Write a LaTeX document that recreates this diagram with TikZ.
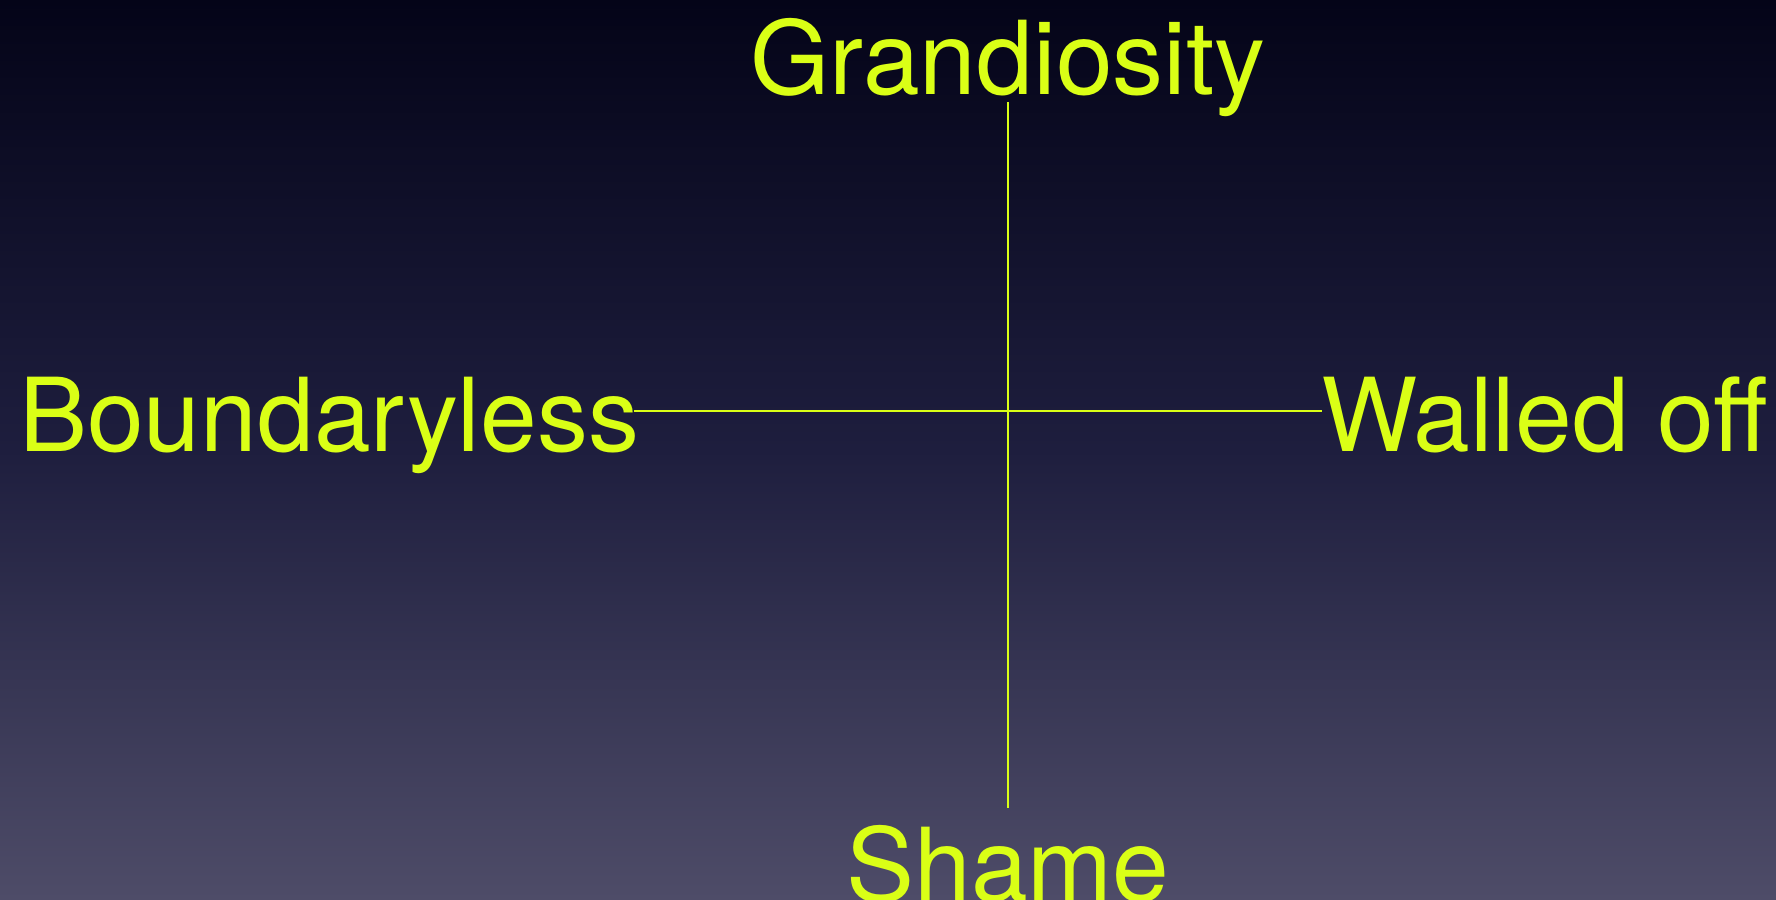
\documentclass[tikz,border=0pt]{standalone}
\usepackage{fontspec}
\setmainfont{TeX Gyre Heros}
\definecolor{lime}{RGB}{218,255,22}
\definecolor{bgtop}{RGB}{4,4,24}
\definecolor{bgmid}{RGB}{30,30,62}
\definecolor{bgbot}{RGB}{78,76,104}
\tikzset{
  label/.style={text=lime, inner sep=0pt, font=\fontsize{102}{110}\selectfont},
  axisline/.style={draw=lime, line width=2.8pt}
}
\begin{document}
\begin{tikzpicture}[x=1pt,y=-1pt]
\shade[top color=bgtop, bottom color=bgbot, middle color=bgmid] (0,0) rectangle (1776,899);
\useasboundingbox (0,0) rectangle (1776,899);
\node[label, anchor=base] (grand) at (1008,94) {Grandiosity};
\node[label, anchor=base] (shame) at (1008,901) {Shame};
\node[label, anchor=base west] (bound) at (19,451) {Boundaryless};
\node[label, anchor=base west] (walled) at (1321,451) {Walled off};
\coordinate (top) at (1008,102);
\coordinate (bot) at (1008,808);
\coordinate (left) at (634,411);
\coordinate (right) at (1322,411);
\draw[axisline] (top) -- (bot);
\draw[axisline] (left) -- (right);
\end{tikzpicture}
\end{document}
